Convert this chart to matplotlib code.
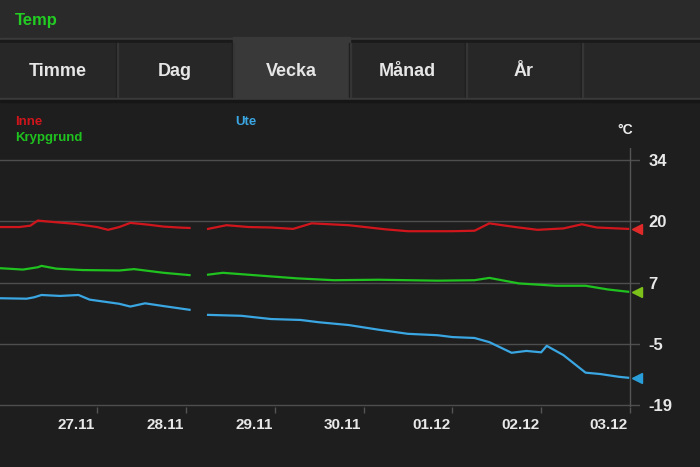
import matplotlib
matplotlib.use("Agg")
import matplotlib.pyplot as plt
import matplotlib.transforms as mtransforms
from matplotlib.patches import Rectangle
import numpy as np
import pandas as pd

W, H = 700, 467

# data, gap = NaN
inne_t = ["11-25 21:45", "11-26 03:00", "11-26 06:00", "11-26 08:00", "11-26 12:00", "11-26 18:00",
          "11-27 00:00", "11-27 03:00", "11-27 06:00", "11-27 09:00", "11-27 14:00", "11-27 18:00",
          "11-27 22:00", "11-28 01:00", "11-28 03:00", "11-28 06:00", "11-28 11:00", "11-28 17:00",
          "11-28 23:00", "11-29 05:00", "11-29 10:00", "11-29 20:00", "11-30 06:00", "11-30 12:00",
          "12-01 00:00", "12-01 06:00", "12-01 10:00", "12-01 17:00", "12-01 23:00", "12-02 06:00",
          "12-02 11:00", "12-02 15:00", "12-02 23:30"]
inne_v = [19.5, 19.5, 19.8, 20.9, 20.6, 20.2,
          19.5, 18.9, 19.5, 20.4, 20.0, 19.6,
          19.4, 19.3, np.nan, 19.1, 19.9, 19.5,
          19.4, 19.1, 20.3, 19.9, 19.0, 18.6,
          18.6, 18.7, 20.3, 19.5, 18.9, 19.2,
          20.1, 19.4, 19.1]

kryp_t = ["11-25 21:45", "11-26 04:00", "11-26 08:00", "11-26 09:00", "11-26 13:00", "11-26 20:00",
          "11-27 06:00", "11-27 10:00", "11-27 18:00", "11-28 01:00", "11-28 03:00", "11-28 06:00",
          "11-28 10:00", "11-28 20:00", "11-29 06:00", "11-29 16:00", "11-30 04:00", "11-30 20:00",
          "12-01 06:00", "12-01 10:00", "12-01 18:00", "12-02 04:00", "12-02 12:00", "12-02 18:00",
          "12-02 23:30"]
kryp_v = [10.6, 10.3, 10.8, 11.1, 10.5, 10.2,
          10.1, 10.4, 9.6, 9.1, np.nan, 9.2,
          9.6, 9.0, 8.4, 8.0, 8.1, 7.9,
          8.0, 8.5, 7.3, 6.8, 6.8, 6.0,
          5.5]

ute_t = ["11-25 21:45", "11-26 05:00", "11-26 07:00", "11-26 09:00", "11-26 14:00", "11-26 19:00",
         "11-26 22:00", "11-27 06:00", "11-27 09:00", "11-27 13:00", "11-27 18:00", "11-28 01:00",
         "11-28 03:00", "11-28 06:00", "11-28 15:00", "11-28 23:00", "11-29 07:00", "11-29 12:00",
         "11-29 20:00", "11-30 04:00", "11-30 12:00", "11-30 20:00", "12-01 00:00", "12-01 06:00",
         "12-01 10:00", "12-01 16:00", "12-01 20:00", "12-02 00:00", "12-02 01:30", "12-02 06:00",
         "12-02 12:00", "12-02 16:00", "12-02 21:00", "12-02 23:30"]
ute_v = [4.1, 4.0, 4.3, 4.8, 4.6, 4.8,
         3.8, 2.9, 2.3, 3.0, 2.4, 1.6,
         np.nan, 0.5, 0.3, -0.4, -0.6, -1.1,
         -1.7, -2.7, -3.6, -3.9, -4.3, -4.5,
         -5.4, -7.7, -7.3, -7.6, -6.2, -8.2,
         -12.0, -12.3, -12.9, -13.1]

day_ticks = ["11-27", "11-28", "11-29", "11-30", "12-01", "12-02", "12-03"]
day_labels = ["27.11", "28.11", "29.11", "30.11", "01.12", "02.12", "03.12"]
y_ticks = [34, 20.75, 7.5, -5.75, -19]
y_labels = ["34", "20", "7", "-5", "-19"]
tabs = ["Timme", "Dag", "Vecka", "Månad", "År"]

RED = "#d0161c"
GREEN = "#1fc21f"
BLUE = "#3aa6e2"


def ts(lst):
    return pd.to_datetime(["2012-" + s for s in lst])


plt.rcParams["font.family"] = ["Liberation Sans Narrow", "Liberation Sans", "DejaVu Sans"]
fig = plt.figure(figsize=(W / 100, H / 100), dpi=100)
fig.patch.set_facecolor("#1e1e1e")


def box(x0, y0, x1, y1, color):
    # pixel box, y from top
    fig.patches.append(Rectangle((x0 / W, 1 - y1 / H), (x1 - x0) / W, (y1 - y0) / H,
                                 transform=fig.transFigure, color=color, zorder=0))


def ftext(x, y, s, **kw):
    fig.text(x / W, 1 - y / H, s, **kw)


SANS = ["Liberation Sans", "DejaVu Sans"]

# header + tab bar
box(0, 0, 700, 38, "#2a2a2a")
box(0, 38, 700, 40, "#3a3a3a")
box(0, 40, 700, 43, "#1a1a1a")
box(0, 43, 700, 98, "#272727")
box(233, 37, 350, 98, "#393939")
for xd in [117, 233, 350, 466, 582]:
    box(xd - 1, 43, xd, 98, "#1b1b1b")
    box(xd, 43, xd + 1, 98, "#353535")
box(0, 98, 700, 100, "#3a3a3a")
box(0, 100, 700, 102, "#161616")
ftext(15, 21, "Temp", color="#22cc22", fontsize=12, fontweight="bold", va="center", family=SANS)
for i, t in enumerate(tabs):
    ftext(58 + i * 116.5, 71, t, color="#e6e6e6", fontsize=13, fontweight="bold",
          ha="center", va="center", family=SANS)

# legend labels
ftext(15, 122, "Inne", color=RED, fontsize=9.5, fontweight="bold", va="center", family=SANS)
ftext(15, 138, "Krypgrund", color=GREEN, fontsize=9.5, fontweight="bold", va="center", family=SANS)
ftext(235, 122, "Ute", color=BLUE, fontsize=9.5, fontweight="bold", va="center", family=SANS)
ftext(617, 130, "°C", color="#eeeeee", fontsize=10, fontweight="bold", va="center", family=SANS)

# chart axes (pixel rows 148..407)
ax = fig.add_axes([0, (H - 407) / H, 640 / W, (407 - 148) / H])
ax.set_facecolor("none")
for s in ax.spines.values():
    s.set_visible(False)

t0 = pd.Timestamp("2012-11-27")
t_end = pd.Timestamp("2012-12-03")
ax.set_xlim(t0 - pd.Timedelta(days=1.092), t_end + pd.Timedelta(days=0.1126))
ax.set_ylim(-19.43, 36.6)

ax.set_yticks(y_ticks)
ax.set_yticklabels(y_labels)
ax.yaxis.tick_right()
ax.grid(axis="y", color="#4e4e4e", lw=1)
ax.tick_params(axis="y", length=0, pad=6, labelcolor="#e8e8e8", labelsize=12)
for lab in ax.get_yticklabels():
    lab.set_fontweight("bold")

xt = ts(day_ticks)
ax.set_xticks(xt)
ax.set_xticklabels(day_labels)
ax.tick_params(axis="x", direction="out", length=4, color="#555555", width=1,
               labelcolor="#e8e8e8", labelsize=11, pad=4)
shift = mtransforms.ScaledTranslation(-2 / 100, 0, fig.dpi_scale_trans)
for lab in ax.get_xticklabels():
    lab.set_fontweight("bold")
    lab.set_horizontalalignment("right")
    lab.set_transform(lab.get_transform() + shift)

ax.axvline(t_end, color="#555555", lw=1)

ax.plot(ts(inne_t), inne_v, color=RED, lw=1.6)
ax.plot(ts(kryp_t), kryp_v, color=GREEN, lw=1.6)
ax.plot(ts(ute_t), ute_v, color=BLUE, lw=1.6)

# end markers
trans = mtransforms.blended_transform_factory(ax.transAxes, ax.transData)
for vals, c in [(inne_v, "#e02a2a"), (kryp_v, "#7cc21a"), (ute_v, "#2a9ed8")]:
    ax.plot(0.995, vals[-1], marker="<", color=c, ms=7, transform=trans, clip_on=False)

fig.savefig("out.png", dpi=100, facecolor=fig.get_facecolor())
